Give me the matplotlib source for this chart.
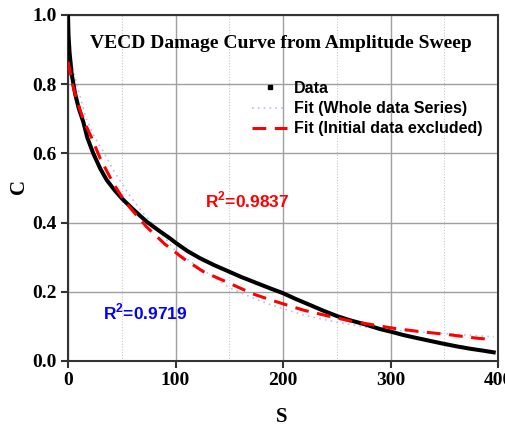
import matplotlib
matplotlib.use('Agg')
import matplotlib.pyplot as plt
from matplotlib.lines import Line2D
from matplotlib.ticker import MultipleLocator

data_s = [0, 0.5, 1.5, 3.4, 6.5, 10, 14.3, 18, 23.5, 30, 36, 43, 50, 60, 73, 84,
          95, 100, 111, 122.8, 136, 150, 161, 172.4, 188, 200, 212, 225, 237,
          250, 262, 275, 290, 300, 312, 325, 337, 349, 362, 375, 386, 396]
data_c = [1.0, 0.94, 0.89, 0.83, 0.774, 0.73, 0.69, 0.645, 0.60, 0.556, 0.523,
          0.495, 0.470, 0.44, 0.403, 0.378, 0.354, 0.342, 0.318, 0.297, 0.277,
          0.258, 0.243, 0.229, 0.21, 0.196, 0.179, 0.162, 0.146, 0.13, 0.118,
          0.107, 0.0925, 0.085, 0.075, 0.066, 0.058, 0.05, 0.042, 0.035, 0.03,
          0.025]

# fit over the whole data series
whole_s = [2, 8, 17.4, 25, 33, 42, 58, 70, 85, 100, 126, 150, 175, 191, 219,
           250, 275, 300, 337, 370, 396]
whole_c = [0.88, 0.80, 0.697, 0.645, 0.605, 0.552, 0.475, 0.427, 0.375, 0.318,
           0.262, 0.212, 0.178, 0.160, 0.133, 0.112, 0.099, 0.09, 0.082, 0.075,
           0.07]

# fit with the initial data excluded
excl_s = [0, 1, 5, 11.2, 16, 22, 30, 42, 50, 57.7, 73, 90, 107, 126, 150, 172,
          191, 219, 242, 265, 281, 303, 327, 352, 380, 395]
excl_c = [0.865, 0.85, 0.79, 0.725, 0.685, 0.645, 0.585, 0.514, 0.475, 0.443,
          0.388, 0.338, 0.297, 0.258, 0.225, 0.194, 0.174, 0.147, 0.13, 0.114,
          0.106, 0.0945, 0.085, 0.077, 0.066, 0.062]

r2_whole = '0.9719'
r2_excl = '0.9837'

SERIF = 'Liberation Serif'
SANS = 'Liberation Sans'

plt.rcParams['mathtext.fontset'] = 'custom'
plt.rcParams['mathtext.rm'] = SANS + ':bold'
plt.rcParams['mathtext.bf'] = SANS + ':bold'

fig = plt.figure(figsize=(5.06, 4.26), dpi=100)
ax = fig.add_axes([0.1344, 0.1526, 0.8498, 0.8122])

whole_style = dict(color='#b8bff0', lw=1.2, ls=(0, (1, 2.5)))
excl_style = dict(color='#ff0000', lw=2.2, ls=(0, (4.5, 2.8)))

ax.plot(whole_s, whole_c, zorder=2, **whole_style)
ax.plot(data_s, data_c, color='black', lw=2.9, zorder=3)
ax.plot(excl_s, excl_c, zorder=4, **excl_style)

ax.set_xlim(0, 400)
ax.set_ylim(0, 1.0)
ax.xaxis.set_minor_locator(MultipleLocator(50))

ax.grid(which='major', color='#a0a0a0', lw=1.0)
ax.grid(which='minor', axis='x', color='#c8c8c8', lw=0.8, ls=(0, (1, 1.5)))
ax.set_axisbelow(True)

for sp in ax.spines.values():
    sp.set_color('#333333')
    sp.set_linewidth(1.5)
ax.tick_params(which='major', direction='out', length=5, width=1.5,
               color='#333333', pad=3)
ax.tick_params(which='minor', length=0)
ax.set_yticks([0, 0.2, 0.4, 0.6, 0.8, 1.0])
ax.set_yticklabels(['0.0', '0.2', '0.4', '0.6', '0.8', '1.0'],
                   fontfamily=SERIF, fontweight='bold', fontsize=14)
ax.set_xticks([0, 100, 200, 300, 400])
ax.set_xticklabels(['0', '100', '200', '300', '400'],
                   fontfamily=SERIF, fontweight='bold', fontsize=14)

ax.set_xlabel('S', fontfamily=SERIF, fontweight='bold', fontsize=15)
ax.set_ylabel('C', fontfamily=SERIF, fontweight='bold', fontsize=15)
ax.xaxis.set_label_coords(0.498, -0.134)
ax.yaxis.set_label_coords(-0.090, 0.503)

ax.text(0.495, 0.919, 'VECD Damage Curve from Amplitude Sweep',
        transform=ax.transAxes, ha='center', va='center',
        fontfamily=SERIF, fontweight='bold', fontsize=14)

ax.text(127.4, 0.465, 'R$^{2}$=' + r2_excl, color='#ff0000',
        fontfamily=SANS, fontweight='bold', fontsize=12.5, va='center')
ax.text(32.6, 0.142, 'R$^{2}$=' + r2_whole, color='#0000ff',
        fontfamily=SANS, fontweight='bold', fontsize=12.5, va='center')

handles = [
    Line2D([], [], color='black', marker='s', ms=2.5, ls='none'),
    Line2D([], [], **whole_style),
    Line2D([], [], **excl_style),
]
labels = ['Data', 'Fit (Whole data Series)', 'Fit (Initial data excluded)']
leg = ax.legend(handles, labels, loc='upper left',
                bbox_to_anchor=(0.428, 0.809), frameon=False,
                prop={'family': SANS, 'weight': 'bold', 'size': 11.5},
                handlelength=2.2, handletextpad=0.4, labelspacing=0.32,
                borderaxespad=0, borderpad=0)

fig.savefig('out.png', dpi=100)
